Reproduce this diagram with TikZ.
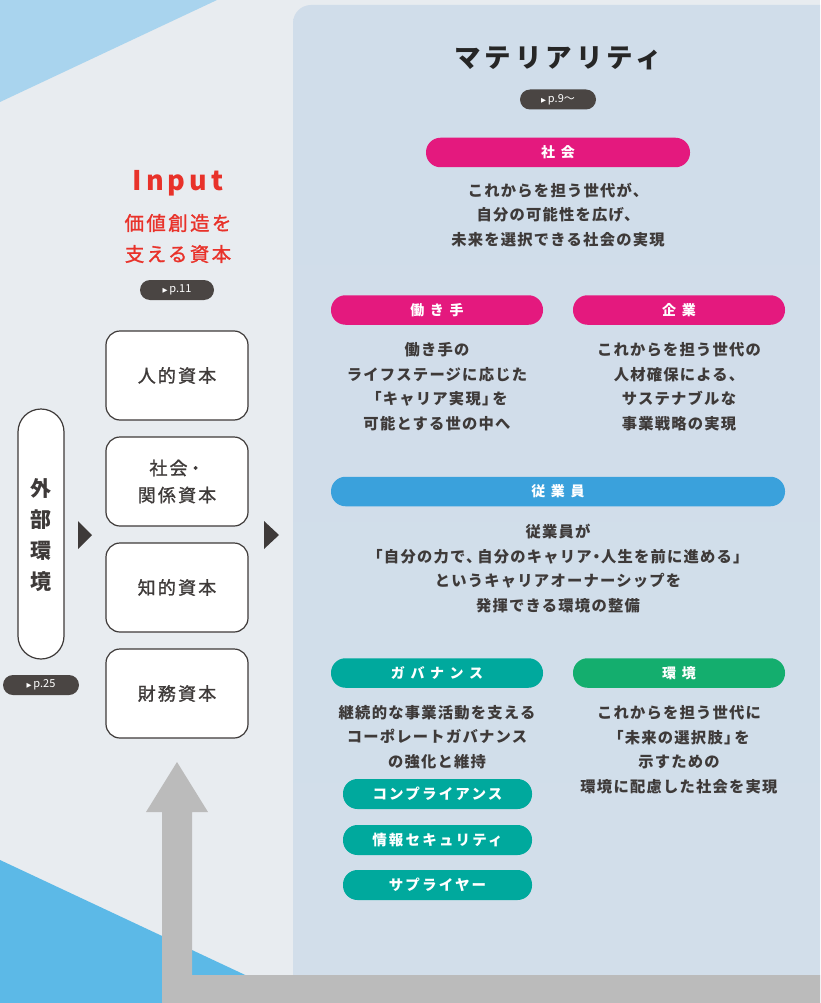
\documentclass[tikz,border=0pt]{standalone}
\usepackage{fontspec}
\setmainfont{Noto Sans CJK JP}
\newfontfamily\jp{Noto Sans CJK JP}
\newfontfamily\jpsp[LetterSpace=8]{Noto Sans CJK JP}
\newfontfamily\jpwide[LetterSpace=15]{Noto Sans CJK JP}
\newfontfamily\jpmed[LetterSpace=12,FakeBold=1.2]{Noto Sans CJK JP}
\newfontfamily\jplabel[LetterSpace=40]{Noto Sans CJK JP}
\newfontfamily\dvs{DejaVu Sans}
\definecolor{bggray}{HTML}{E8ECF0}
\definecolor{lightblue}{HTML}{A9D4EE}
\definecolor{deepblue}{HTML}{5CB9E7}
\definecolor{paneltop}{HTML}{D0DDEA}
\definecolor{panelmid}{HTML}{DDE8F3}
\definecolor{panelbot}{HTML}{D2DEEA}
\definecolor{textdark}{HTML}{3E3A39}
\definecolor{badge}{HTML}{4A4543}
\definecolor{magenta}{HTML}{E4197E}
\definecolor{skyblue}{HTML}{3AA1DC}
\definecolor{teal}{HTML}{00A99D}
\definecolor{envgreen}{HTML}{14AE6E}
\definecolor{arrowgray}{HTML}{BBBBBB}
\definecolor{inputred}{HTML}{E8322A}
\newcommand{\tri}{{\dvs\fontsize{6.5}{6.5}\selectfont ▶}}
\tikzset{
  pill/.style={rounded corners=14.5, minimum height=29.5, inner sep=0, text=white,
     font={\jplabel\bfseries\fontsize{14}{14}\selectfont}},
  subpill/.style={pill, fill=teal, minimum width=189, minimum height=30,
     font={\jpwide\bfseries\fontsize{14.5}{15}\selectfont}},
  desc/.style={align=center, text=textdark, inner sep=0,
     font={\jpsp\bfseries\fontsize{15.3}{24.5}\selectfont}},
  capbox/.style={draw=textdark, line width=1.2pt, fill=white, rounded corners=14,
     minimum width=142, minimum height=89, align=center, text=textdark, inner sep=0,
     font={\jpmed\fontsize{18}{27}\selectfont}},
  badgebox/.style={fill=badge, rounded corners=10, minimum width=75, minimum height=20,
     inner sep=0, text=white, font={\jp\fontsize{11}{11}\selectfont}},
  triarrow/.style={fill=textdark},
}
\begin{document}
\begin{tikzpicture}[x=1pt,y=-1pt]
\useasboundingbox (0,0) rectangle (820,1003);
\begin{scope}
\clip (0,0) rectangle (820,1003);
% background
\fill[bggray] (0,0) rectangle (820,1003);
\fill[lightblue] (0,0) -- (217,0) -- (0,102) -- cycle;
\fill[deepblue] (0,860) -- (305,1003) -- (0,1003) -- cycle;
% right panel
\shade[top color=paneltop, middle color=panelmid, bottom color=panelbot, rounded corners=18]
  (293,5) rectangle (840,1040);
% gray arrow
\fill[arrowgray] (162,1003) -- (162,812) -- (146,812) -- (177,762) -- (208,812)
  -- (192,812) -- (192,975) -- (820,975) -- (820,1003) -- cycle;
\end{scope}

% ---- left side ----
\node[text=inputred, font={\jpwide\bfseries\fontsize{27}{27}\selectfont}] (input) at (178,183) {Input};
\node[text=inputred, align=center, font={\jpmed\fontsize{19.5}{31}\selectfont}] (inputsub) at (178,238.5) {価値創造を\\支える資本};
\node[badgebox, minimum width=74] (b11) at (177,290) {\tri\,p.11};

\node[draw=textdark, line width=1.2pt, fill=white, rounded corners=23, minimum width=46,
  minimum height=250, inner sep=0] (ext) at (41,534) {};
\node[align=center, text=textdark, font={\jp\bfseries\fontsize{21}{31}\selectfont}] (exttext) at (41,535) {外\\部\\環\\境};
\node[badgebox, minimum width=76] (b25) at (41,685) {\tri\,p.25};

\node[capbox] (c1) at (177,375.5) {人的資本};
\node[capbox] (c2) at (177,481.5) {社会\kern-1pt・\\関係資本};
\node[capbox] (c3) at (177,587.5) {知的資本};
\node[capbox] (c4) at (177,693.5) {財務資本};

\fill[triarrow] (78,521) -- (92,535) -- (78,549) -- cycle;
\fill[triarrow] (264,521) -- (279,535) -- (264,549) -- cycle;

% ---- right panel ----
\node[text=black!85, font={\jpwide\bfseries\fontsize{26.5}{26.5}\selectfont}] (title) at (558,58) {マテリアリティ};
\node[badgebox, minimum width=76] (b9) at (558,99.5) {\tri\,p.9〜};

\node[pill, fill=magenta, minimum width=264] (shakai) at (558,152.5) {社会};
\node[desc] (shakaid) at (558,215) {これからを担う世代が、\\自分の可能性を広げ、\\未来を選択できる社会の実現};

\node[pill, fill=magenta, minimum width=212] (hatarakite) at (437,310) {働き手};
\node[pill, fill=magenta, minimum width=212] (kigyo) at (679,310) {企業};
\node[desc] (hatarakited) at (437,386.5) {働き手の\\ライフステージに応じた\\「キャリア実現」\kern-5pt を\\可能とする世の中へ};
\node[desc] (kigyod) at (679,386.5) {これからを担う世代の\\人材確保による、\\サステナブルな\\事業戦略の実現};

\node[pill, fill=skyblue, minimum width=454] (jugyoin) at (558,491.5) {従業員};
\node[desc] (jugyoind) at (558,568.5) {従業員が\\「自分の力で、\kern-4pt 自分のキャリア\kern-3pt・\kern-3pt 人生を前に進める」\\というキャリアオーナーシップを\\発揮できる環境の整備};

\node[pill, fill=teal, minimum width=212] (gov) at (437,673) {ガバナンス};
\node[pill, fill=envgreen, minimum width=212] (env) at (679,673) {環境};
\node[desc] (govd) at (437,737) {継続的な事業活動を支える\\コーポレートガバナンス\\の強化と維持};
\node[desc] (envd) at (679,749.5) {これからを担う世代に\\「未来の選択肢」\kern-5pt を\\示すための\\環境に配慮した社会を実現};

\node[subpill] (comp) at (437.5,794) {コンプライアンス};
\node[subpill] (sec) at (437.5,840) {情報セキュリティ};
\node[subpill] (sup) at (437.5,885) {サプライヤー};
\end{tikzpicture}
\end{document}
